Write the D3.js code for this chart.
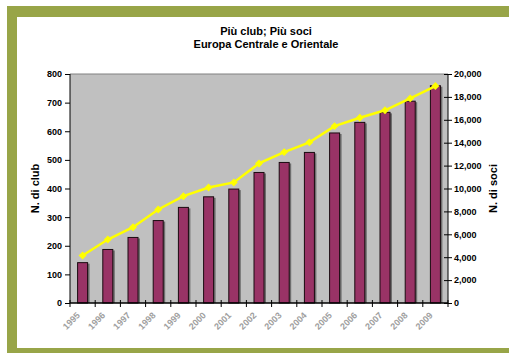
<!DOCTYPE html>
<html>
<head>
<meta charset="utf-8">
<script src="https://cdn.jsdelivr.net/npm/d3@7"></script>
<style>
  body { margin: 0; background: #fff; }
  text { font-family: Arial, "Liberation Sans", sans-serif; }
</style>
</head>
<body>
<div id="chart"></div>
<script>
var years = ["1995", "1996", "1997", "1998", "1999", "2000", "2001", "2002",
             "2003", "2004", "2005", "2006", "2007", "2008", "2009"]
var clubs = [141, 187, 229, 288, 334, 371, 398, 456, 491, 526, 594, 631, 666, 705, 759]
var soci = [4150, 5540, 6620, 8170, 9330, 10090, 10530, 12190, 13180, 14030,
            15450, 16180, 16830, 17870, 18950]
var clubTicks = [0, 100, 200, 300, 400, 500, 600, 700, 800]
var sociTicks = [0, 2000, 4000, 6000, 8000, 10000, 12000, 14000, 16000, 18000, 20000]

var W = 509, H = 353
var margin = { top: 74, right: 61, bottom: 50, left: 70 },
    width = W - margin.left - margin.right,
    height = H - margin.top - margin.bottom

var svg = d3.select("#chart").append("svg")
    .attr("width", W)
    .attr("height", H)

// green frame
var green = "#98a548"
svg.append("rect").attr("x", 7).attr("y", 6).attr("width", W - 7).attr("height", 11).attr("fill", green)
svg.append("rect").attr("x", 7).attr("y", 6).attr("width", 10).attr("height", H - 6).attr("fill", green)
svg.append("rect").attr("x", 7).attr("y", 348).attr("width", W - 7).attr("height", 5).attr("fill", green)

// titles
svg.append("text").attr("x", 266).attr("y", 35)
    .attr("text-anchor", "middle").attr("font-size", 11).attr("font-weight", "bold")
    .text("Più club; Più soci")
svg.append("text").attr("x", 266).attr("y", 48)
    .attr("text-anchor", "middle").attr("font-size", 11).attr("font-weight", "bold")
    .text("Europa Centrale e Orientale")

var g = svg.append("g")
    .attr("transform", "translate(" + margin.left + "," + margin.top + ")")

var x = d3.scaleBand().domain(years).range([0, width])
var yL = d3.scaleLinear().domain([0, 800]).range([height, 0])
var yR = d3.scaleLinear().domain([0, 20000]).range([height, 0])

// plot area
g.append("rect").attr("width", width).attr("height", height).attr("fill", "#c0c0c0")
g.append("line").attr("x1", 0).attr("x2", width).attr("y1", 0).attr("y2", 0)
    .attr("stroke", "#808080").attr("stroke-width", 1)

var barW = 10

// bar shadows
g.selectAll(".shadow").data(years).enter().append("rect")
    .attr("x", function (d) { return x(d) + x.bandwidth() / 2 - barW / 2 + 2 })
    .attr("y", function (d, i) { return yL(clubs[i]) + 1 })
    .attr("width", barW)
    .attr("height", function (d, i) { return height - yL(clubs[i]) - 1 })
    .attr("fill", "#6e6e6e")

g.selectAll(".bar").data(years).enter().append("rect")
    .attr("x", function (d) { return x(d) + x.bandwidth() / 2 - barW / 2 })
    .attr("y", function (d, i) { return yL(clubs[i]) })
    .attr("width", barW)
    .attr("height", function (d, i) { return height - yL(clubs[i]) })
    .attr("fill", "#993366")
    .attr("stroke", "#1a0a10")
    .attr("stroke-width", 1)

// line
var line = d3.line()
    .x(function (d, i) { return x(years[i]) + x.bandwidth() / 2 })
    .y(function (d) { return yR(d) })

g.append("path").datum(soci)
    .attr("d", line)
    .attr("fill", "none")
    .attr("stroke", "#ffff00")
    .attr("stroke-width", 2.5)

g.selectAll(".pt").data(soci).enter().append("path")
    .attr("d", d3.symbol().type(d3.symbolDiamond2).size(40))
    .attr("transform", function (d, i) {
        return "translate(" + (x(years[i]) + x.bandwidth() / 2) + "," + yR(d) + ")"
    })
    .attr("fill", "#ffff00")

// left axis
var axL = g.append("g")
    .call(d3.axisLeft(yL).tickValues(clubTicks).tickSize(5).tickPadding(3))
axL.select(".domain").attr("stroke", "#000").attr("d", "M0,0V" + height)
axL.selectAll("text").attr("font-size", 9).attr("font-weight", "bold")
    .attr("font-family", "Arial, 'Liberation Sans', sans-serif")

// right axis, ticks crossing
var axR = g.append("g").attr("transform", "translate(" + width + ",0)")
    .call(d3.axisRight(yR).tickValues(sociTicks).tickSize(4).tickPadding(2)
        .tickFormat(d3.format(",")))
axR.select(".domain").attr("stroke", "#000").attr("d", "M0,0V" + height)
axR.selectAll(".tick line").attr("x1", -4)
axR.selectAll("text").attr("font-size", 9).attr("font-weight", "bold")
    .attr("font-family", "Arial, 'Liberation Sans', sans-serif")

// x axis: ticks at band boundaries, crossing the axis
var xa = g.append("g").attr("transform", "translate(0," + height + ")")
xa.append("line").attr("x1", 0).attr("x2", width).attr("stroke", "#000").attr("stroke-width", 1.5)
var bounds = years.map(function (d) { return x(d) }).concat([width])
xa.selectAll(".xt").data(bounds).enter().append("line")
    .attr("x1", function (d) { return d }).attr("x2", function (d) { return d })
    .attr("y1", -3).attr("y2", 4)
    .attr("stroke", "#000")
xa.selectAll(".xl").data(years).enter().append("text")
    .attr("transform", function (d) {
        return "translate(" + (x(d) + x.bandwidth() / 2 - 2) + ",13) rotate(-45)"
    })
    .attr("text-anchor", "end")
    .attr("font-size", 9)
    .attr("font-weight", "bold")
    .attr("fill", "#a0a0a0")
    .text(function (d) { return d })

// axis titles
svg.append("text")
    .attr("transform", "translate(39," + (margin.top + height / 2) + ") rotate(-90)")
    .attr("text-anchor", "middle").attr("font-size", 11).attr("font-weight", "bold")
    .text("N. di club")
svg.append("text")
    .attr("transform", "translate(497," + (margin.top + height / 2) + ") rotate(-90)")
    .attr("text-anchor", "middle").attr("font-size", 11).attr("font-weight", "bold")
    .text("N. di soci")
</script>
</body>
</html>
